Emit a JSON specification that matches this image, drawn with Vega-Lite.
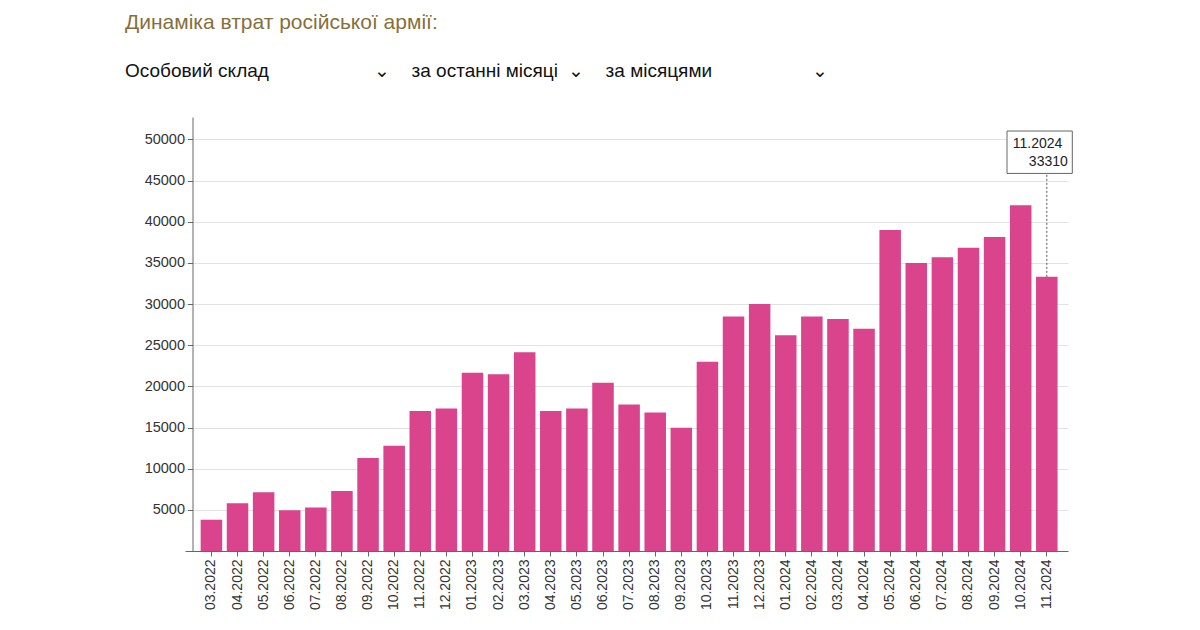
{
  "$schema": "https://vega.github.io/schema/vega-lite/v6.json",
  "autosize": {"type": "none"},
  "padding": {"left": 185, "top": 117, "right": 132, "bottom": 79},
  "width": 883,
  "height": 434,
  "background": "white",
  "title": {
    "text": "Динаміка втрат російської армії:",
    "subtitle": "\u00a0\u00a0Особовий склад\u00a0\u00a0\u00a0\u00a0\u00a0\u00a0\u00a0\u00a0\u00a0\u00a0\u00a0\u00a0\u00a0\u00a0\u00a0\u00a0\u00a0\u00a0\u00a0\u00a0⌄\u00a0\u00a0\u00a0\u00a0за останні місяці\u00a0\u00a0⌄\u00a0\u00a0\u00a0\u00a0за місяцями\u00a0\u00a0\u00a0\u00a0\u00a0\u00a0\u00a0\u00a0\u00a0\u00a0\u00a0\u00a0\u00a0\u00a0\u00a0\u00a0\u00a0\u00a0\u00a0⌄",
    "anchor": "start",
    "frame": "group",
    "dx": -60,
    "offset": 36,
    "font": "Liberation Sans",
    "fontSize": 21,
    "fontWeight": "normal",
    "color": "#86703a",
    "subtitleFont": "Liberation Sans",
    "subtitleFontSize": 19,
    "subtitleColor": "#111111",
    "subtitlePadding": 29
  },
  "data": {
    "values": [
      {"month": "03.2022", "losses": 3800},
      {"month": "04.2022", "losses": 5800},
      {"month": "05.2022", "losses": 7150},
      {"month": "06.2022", "losses": 4950},
      {"month": "07.2022", "losses": 5300},
      {"month": "08.2022", "losses": 7300},
      {"month": "09.2022", "losses": 11300},
      {"month": "10.2022", "losses": 12800},
      {"month": "11.2022", "losses": 17000},
      {"month": "12.2022", "losses": 17300},
      {"month": "01.2023", "losses": 21650},
      {"month": "02.2023", "losses": 21480},
      {"month": "03.2023", "losses": 24150},
      {"month": "04.2023", "losses": 17000},
      {"month": "05.2023", "losses": 17300},
      {"month": "06.2023", "losses": 20450},
      {"month": "07.2023", "losses": 17800},
      {"month": "08.2023", "losses": 16830},
      {"month": "09.2023", "losses": 14980},
      {"month": "10.2023", "losses": 23000},
      {"month": "11.2023", "losses": 28500},
      {"month": "12.2023", "losses": 30000},
      {"month": "01.2024", "losses": 26200},
      {"month": "02.2024", "losses": 28500},
      {"month": "03.2024", "losses": 28200},
      {"month": "04.2024", "losses": 27000},
      {"month": "05.2024", "losses": 39000},
      {"month": "06.2024", "losses": 35000},
      {"month": "07.2024", "losses": 35700},
      {"month": "08.2024", "losses": 36850},
      {"month": "09.2024", "losses": 38150},
      {"month": "10.2024", "losses": 42000},
      {"month": "11.2024", "losses": 33310}
    ]
  },
  "encoding": {
    "x": {
      "field": "month",
      "type": "ordinal",
      "sort": null,
      "scale": {"paddingInner": 0.176, "paddingOuter": 0.5, "align": 0.6},
      "axis": {
        "title": null,
        "labelAngle": -90,
        "labelFont": "Liberation Sans",
        "labelFontSize": 14,
        "labelColor": "#333333",
        "labelPadding": 3,
        "tickSize": 5,
        "tickColor": "#666666",
        "domainColor": "#666666",
        "grid": false
      }
    }
  },
  "layer": [
    {
      "mark": {"type": "bar", "color": "#d9448d"},
      "encoding": {
        "y": {
          "field": "losses",
          "type": "quantitative",
          "scale": {"domain": [0, 52730], "nice": false},
          "axis": {
            "title": null,
            "offset": -7.5,
            "format": "d",
            "values": [5000, 10000, 15000, 20000, 25000, 30000, 35000, 40000, 45000, 50000],
            "labelFont": "Liberation Sans",
            "labelFontSize": 14.5,
            "labelColor": "#333333",
            "labelPadding": 3,
            "tickSize": 5,
            "tickColor": "#666666",
            "domainColor": "#666666",
            "grid": true,
            "gridColor": "#e2e2e2"
          }
        }
      }
    },
    {
      "transform": [{"filter": "datum.month === '11.2024'"}],
      "mark": {"type": "rule", "color": "#555555", "strokeDash": [2, 2], "strokeWidth": 1},
      "encoding": {
        "y": {"field": "losses", "type": "quantitative"},
        "y2": {"datum": 45890}
      }
    },
    {
      "transform": [{"filter": "datum.month === '11.2024'"}],
      "mark": {
        "type": "point",
        "shape": "M-0.995,-0.53 L0.6375,-0.53 L0.6375,0.53 L-0.995,0.53 Z",
        "size": 6400,
        "filled": true,
        "fill": "white",
        "stroke": "#666666",
        "strokeWidth": 1,
        "opacity": 1
      },
      "encoding": {
        "y": {"datum": 48450, "type": "quantitative"}
      }
    },
    {
      "transform": [{"filter": "datum.month === '11.2024'"}],
      "mark": {"type": "text", "align": "left", "baseline": "alphabetic", "dx": -34, "dy": -3.9, "font": "Liberation Sans", "fontSize": 14, "color": "#222222"},
      "encoding": {
        "y": {"datum": 48450, "type": "quantitative"},
        "text": {"field": "month"}
      }
    },
    {
      "transform": [{"filter": "datum.month === '11.2024'"}],
      "mark": {"type": "text", "align": "right", "baseline": "alphabetic", "dx": 21, "dy": 13.8, "font": "Liberation Sans", "fontSize": 14, "color": "#222222"},
      "encoding": {
        "y": {"datum": 48450, "type": "quantitative"},
        "text": {"field": "losses", "type": "quantitative", "format": "d"}
      }
    }
  ],
  "config": {
    "view": {"stroke": null}
  }
}
